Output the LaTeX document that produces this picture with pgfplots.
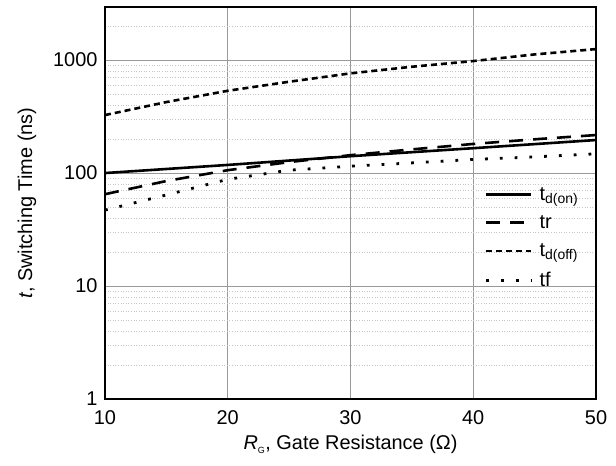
\documentclass[border=0pt]{standalone}
\usepackage{pgfplots}
\pgfplotsset{compat=1.18}
\usepackage{fontspec}
\setmainfont{Liberation Sans}
\begin{document}
\begin{tikzpicture}
\begin{axis}[
  scale only axis,
  width=491bp, height=392bp,
  xmin=10, xmax=50,
  ymode=log, ymin=1, ymax=2950,
  xtick={10,20,30,40,50},
  xticklabels={10,20,30,40,50},
  ytick={1,10,100,1000},
  yticklabels={1,10,100,1000},
  minor ytick={2,3,4,5,6,7,8,9,20,30,40,50,60,70,80,90,200,300,400,500,600,700,800,900,2000},
  major tick length=0pt, minor tick length=0pt,
  tick label style={font=\fontsize{20}{22}\selectfont},
  xticklabel style={yshift=-8bp},
  yticklabel style={xshift=-4bp},
  grid=both,
  major grid style={gray!80, line width=0.8bp},
  minor grid style={gray!45, line width=0.6bp, dotted},
  axis line style={line width=2.5bp},
  xlabel={\textit{R}\textsubscript{\fontsize{9}{9}\selectfont G}, Gate Resistance (Ω)},
  ylabel={\textit{t}, Switching Time (ns)},
  label style={font=\fontsize{20}{22}\selectfont},
  xlabel style={yshift=-4bp},
  ylabel style={yshift=10bp},
  legend style={at={(0.767,0.551)}, anchor=north west, draw=none, fill=none,
    font=\fontsize{20}{22}\selectfont, row sep=10bp, column sep=5bp},
  legend cell align=left,
  legend image code/.code={\draw[#1] (0bp,0bp) -- (45bp,0bp);},
  clip=false,
]
\addplot[black, line width=2.6bp] coordinates {(10,100) (20,118) (30,141) (40,166) (50,196)};
\addlegendentry{t\textsubscript{d(on)}}
\addplot[black, line width=2.6bp, dash pattern=on 14bp off 10bp] coordinates {(10,65) (15,85) (20,106) (25,125) (30,144) (35,162) (40,181) (45,199) (50,217)};
\addlegendentry{tr}
\addplot[black, line width=2.6bp, dash pattern=on 6bp off 4bp] coordinates {(10,326) (15,425) (20,535) (25,643) (30,763) (35,873) (40,980) (45,1122) (50,1251)};
\addlegendentry{t\textsubscript{d(off)}}
\addplot[black, line width=2.8bp, dash pattern=on 2.8bp off 12bp] coordinates {(10,47) (15,64) (20,88) (25,106) (30,115) (35,123) (40,132) (45,139) (50,148)};
\addlegendentry{tf}
\end{axis}
\pgfresetboundingbox
\path[use as bounding box] ([shift={(-105bp,-67bp)}]current axis.south west) rectangle ([shift={(20bp,7bp)}]current axis.north east);
\end{tikzpicture}
\end{document}
